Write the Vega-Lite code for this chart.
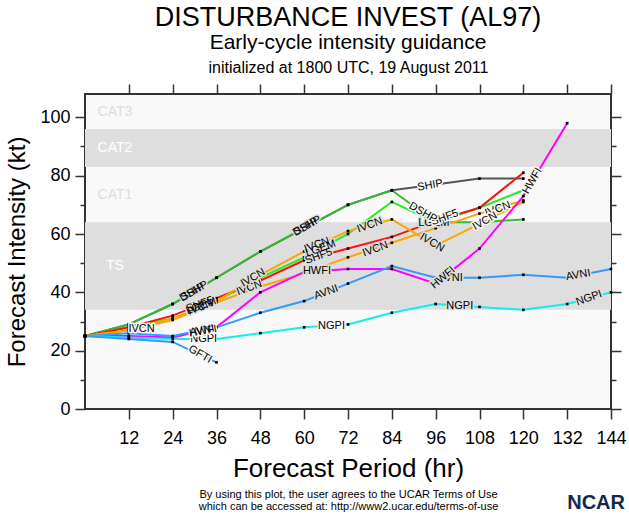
{
  "$schema": "https://vega.github.io/schema/vega-lite/v6.json",
  "background": "white",
  "padding": {"left": 4, "top": 3, "right": 5, "bottom": 2},
  "title": {
    "text": "NCAR",
    "orient": "bottom",
    "anchor": "end",
    "font": "Liberation Sans",
    "fontSize": 20,
    "fontWeight": "bold",
    "color": "#13294b",
    "offset": -19,
    "dx": -2
  },
  "datasets": {
    "series": [
      {"m": "SHIP", "t": 0, "v": 25}, {"m": "SHIP", "t": 12, "v": 29}, {"m": "SHIP", "t": 24, "v": 36}, {"m": "SHIP", "t": 36, "v": 45}, {"m": "SHIP", "t": 48, "v": 54}, {"m": "SHIP", "t": 60, "v": 62}, {"m": "SHIP", "t": 72, "v": 70}, {"m": "SHIP", "t": 84, "v": 75}, {"m": "SHIP", "t": 96, "v": 77}, {"m": "SHIP", "t": 108, "v": 79}, {"m": "SHIP", "t": 120, "v": 79},
      {"m": "DSHP", "t": 0, "v": 25}, {"m": "DSHP", "t": 12, "v": 29}, {"m": "DSHP", "t": 24, "v": 36}, {"m": "DSHP", "t": 36, "v": 45}, {"m": "DSHP", "t": 48, "v": 54}, {"m": "DSHP", "t": 60, "v": 62}, {"m": "DSHP", "t": 72, "v": 70}, {"m": "DSHP", "t": 84, "v": 75}, {"m": "DSHP", "t": 96, "v": 64}, {"m": "DSHP", "t": 108, "v": 64}, {"m": "DSHP", "t": 120, "v": 65},
      {"m": "LGEM", "t": 0, "v": 25}, {"m": "LGEM", "t": 12, "v": 28}, {"m": "LGEM", "t": 24, "v": 31}, {"m": "LGEM", "t": 36, "v": 37}, {"m": "LGEM", "t": 48, "v": 45}, {"m": "LGEM", "t": 60, "v": 52}, {"m": "LGEM", "t": 72, "v": 60}, {"m": "LGEM", "t": 84, "v": 71}, {"m": "LGEM", "t": 96, "v": 64}, {"m": "LGEM", "t": 108, "v": 69}, {"m": "LGEM", "t": 120, "v": 75},
      {"m": "SHF5", "t": 0, "v": 25}, {"m": "SHF5", "t": 12, "v": 28}, {"m": "SHF5", "t": 24, "v": 32}, {"m": "SHF5", "t": 36, "v": 38}, {"m": "SHF5", "t": 48, "v": 44}, {"m": "SHF5", "t": 60, "v": 51}, {"m": "SHF5", "t": 72, "v": 55}, {"m": "SHF5", "t": 84, "v": 59}, {"m": "SHF5", "t": 96, "v": 64.5}, {"m": "SHF5", "t": 108, "v": 69}, {"m": "SHF5", "t": 120, "v": 81},
      {"m": "IVCN", "t": 0, "v": 25}, {"m": "IVCN", "t": 12, "v": 27}, {"m": "IVCN", "t": 24, "v": 31}, {"m": "IVCN", "t": 36, "v": 37}, {"m": "IVCN", "t": 48, "v": 46}, {"m": "IVCN", "t": 60, "v": 54}, {"m": "IVCN", "t": 72, "v": 61}, {"m": "IVCN", "t": 84, "v": 65}, {"m": "IVCN", "t": 96, "v": 56}, {"m": "IVCN", "t": 108, "v": 63.5}, {"m": "IVCN", "t": 120, "v": 71},
      {"m": "ICON", "t": 0, "v": 25}, {"m": "ICON", "t": 12, "v": 27}, {"m": "ICON", "t": 24, "v": 30.5}, {"m": "ICON", "t": 36, "v": 36.5}, {"m": "ICON", "t": 48, "v": 42}, {"m": "ICON", "t": 60, "v": 46.5}, {"m": "ICON", "t": 72, "v": 52}, {"m": "ICON", "t": 84, "v": 57}, {"m": "ICON", "t": 96, "v": 62}, {"m": "ICON", "t": 108, "v": 67}, {"m": "ICON", "t": 120, "v": 71.5},
      {"m": "HWFI", "t": 0, "v": 25}, {"m": "HWFI", "t": 12, "v": 25}, {"m": "HWFI", "t": 24, "v": 24.5}, {"m": "HWFI", "t": 36, "v": 28}, {"m": "HWFI", "t": 48, "v": 40}, {"m": "HWFI", "t": 60, "v": 47}, {"m": "HWFI", "t": 72, "v": 48}, {"m": "HWFI", "t": 84, "v": 48}, {"m": "HWFI", "t": 96, "v": 43}, {"m": "HWFI", "t": 108, "v": 55}, {"m": "HWFI", "t": 120, "v": 73}, {"m": "HWFI", "t": 132, "v": 98},
      {"m": "AVNI", "t": 0, "v": 25}, {"m": "AVNI", "t": 12, "v": 26}, {"m": "AVNI", "t": 24, "v": 25}, {"m": "AVNI", "t": 36, "v": 28}, {"m": "AVNI", "t": 48, "v": 33}, {"m": "AVNI", "t": 60, "v": 37}, {"m": "AVNI", "t": 72, "v": 43}, {"m": "AVNI", "t": 84, "v": 49}, {"m": "AVNI", "t": 96, "v": 45}, {"m": "AVNI", "t": 108, "v": 45}, {"m": "AVNI", "t": 120, "v": 46}, {"m": "AVNI", "t": 132, "v": 45}, {"m": "AVNI", "t": 144, "v": 48},
      {"m": "NGPI", "t": 0, "v": 25}, {"m": "NGPI", "t": 12, "v": 24.5}, {"m": "NGPI", "t": 24, "v": 24}, {"m": "NGPI", "t": 36, "v": 24}, {"m": "NGPI", "t": 48, "v": 26}, {"m": "NGPI", "t": 60, "v": 28}, {"m": "NGPI", "t": 72, "v": 29}, {"m": "NGPI", "t": 84, "v": 33}, {"m": "NGPI", "t": 96, "v": 36}, {"m": "NGPI", "t": 108, "v": 35}, {"m": "NGPI", "t": 120, "v": 34}, {"m": "NGPI", "t": 132, "v": 36}, {"m": "NGPI", "t": 144, "v": 40},
      {"m": "GFTI", "t": 0, "v": 25}, {"m": "GFTI", "t": 12, "v": 24}, {"m": "GFTI", "t": 24, "v": 23}, {"m": "GFTI", "t": 36, "v": 16}
    ],
    "bands": [
      {"band": "TS", "lo": 34, "hi": 64},
      {"band": "CAT2", "lo": 83, "hi": 96}
    ],
    "bandLabels": [
      {"band": "CAT3", "t": 8.2, "v": 102},
      {"band": "CAT2", "t": 8.2, "v": 89.5},
      {"band": "CAT1", "t": 8.2, "v": 73.5},
      {"band": "TS", "t": 8.2, "v": 49}
    ],
    "lab0": [
      {"name": "IVCN", "t": 15.5, "v": 27.5}, {"name": "NGPI", "t": 32.5, "v": 24}, {"name": "HWFI", "t": 63.5, "v": 47.3},
      {"name": "NGPI", "t": 67.5, "v": 28.6}, {"name": "LGEM", "t": 95.5, "v": 63.8}, {"name": "AVNI", "t": 100, "v": 44.8}, {"name": "NGPI", "t": 102.6, "v": 35.3}
    ],
    "lab350": [
      {"name": "AVNI", "t": 32, "v": 26.9}, {"name": "HWFI", "t": 32.3, "v": 26.6}, {"name": "SHIP", "t": 94.5, "v": 76.6}, {"name": "AVNI", "t": 135, "v": 45.9}
    ],
    "lab340": [
      {"name": "SHF5", "t": 31.5, "v": 35.8}, {"name": "LGEM", "t": 31.8, "v": 35.3}, {"name": "IVCN", "t": 31.6, "v": 34.8}, {"name": "IVCN", "t": 45, "v": 41.5},
      {"name": "IVCN", "t": 63.5, "v": 56.2}, {"name": "LGEM", "t": 64.5, "v": 55}, {"name": "SHF5", "t": 64, "v": 52.3}, {"name": "AVNI", "t": 66, "v": 40},
      {"name": "IVCN", "t": 78, "v": 63}, {"name": "IVCN", "t": 79.5, "v": 54.8}, {"name": "SHF5", "t": 98.5, "v": 65.6}, {"name": "IVCN", "t": 113, "v": 68.5}, {"name": "NGPI", "t": 138, "v": 38}
    ],
    "lab330": [
      {"name": "SHIP", "t": 29.5, "v": 40.1}, {"name": "DSHP", "t": 29.8, "v": 40.3}, {"name": "IVCN", "t": 46, "v": 45},
      {"name": "SHIP", "t": 60.5, "v": 62.5}, {"name": "DSHP", "t": 60.8, "v": 62.7}, {"name": "IVCN", "t": 109.5, "v": 64.4}
    ],
    "lab30": [
      {"name": "GFTI", "t": 31.5, "v": 18.7}, {"name": "DSHP", "t": 92.5, "v": 67.3}, {"name": "IVCN", "t": 95, "v": 57}
    ],
    "lab320": [
      {"name": "HWFI", "t": 98, "v": 45}
    ],
    "lab300": [
      {"name": "HWFI", "t": 122.5, "v": 78.2}
    ]
  },
  "vconcat": [
    {
      "width": 526,
      "height": 315,
      "title": {
        "text": "DISTURBANCE INVEST (AL97)",
        "subtitle": "Early-cycle intensity guidance",
        "anchor": "middle",
        "frame": "group",
        "font": "Liberation Sans",
        "subtitleFont": "Liberation Sans",
        "fontSize": 27,
        "subtitleFontSize": 21,
        "fontWeight": "normal",
        "color": "black",
        "subtitleColor": "black",
        "subtitlePadding": 0,
        "offset": 5
      },
      "resolve": {"axis": {"x": "independent", "y": "independent"}},
      "layer": [
        {
          "data": {"name": "bands"},
          "mark": {"type": "rect", "color": "#dedede"},
          "encoding": {
            "x": {"datum": 0, "type": "quantitative", "scale": {"domain": [0, 144], "nice": false, "zero": false}, "axis": null},
            "x2": {"datum": 144},
            "y": {"field": "lo", "type": "quantitative", "scale": {"domain": [0, 108], "nice": false}, "axis": null},
            "y2": {"field": "hi"}
          }
        },
        {
          "data": {"name": "bandLabels"},
          "mark": {"type": "text", "font": "Liberation Sans", "fontSize": 14, "align": "center", "baseline": "middle"},
          "encoding": {
            "x": {
              "field": "t", "type": "quantitative",
              "axis": {"orient": "bottom", "ticks": false, "labels": false, "domain": false, "title": ["By using this plot, the user agrees to the UCAR Terms of Use", "which can be accessed at: http://www2.ucar.edu/terms-of-use"], "titleFontSize": 11, "titleLineHeight": 12, "titlePadding": 79}
            },
            "y": {"field": "v", "type": "quantitative", "axis": null},
            "text": {"field": "band"},
            "fill": {"field": "band", "type": "nominal", "legend": null, "scale": {"domain": ["CAT3", "CAT2", "CAT1", "TS"], "range": ["#dddddd", "#ffffff", "#dddddd", "#ffffff"]}}
          }
        },
        {
          "data": {"name": "series"},
          "mark": {"type": "line", "strokeWidth": 2},
          "encoding": {
            "x": {
              "field": "t", "type": "quantitative",
              "scale": {"domain": [0, 144], "nice": false, "zero": false},
              "axis": {"orient": "bottom", "values": [12, 24, 36, 48, 60, 72, 84, 96, 108, 120, 132, 144], "title": "Forecast Period (hr)", "titleFontSize": 26, "labelFontSize": 18, "tickSize": 10, "labelPadding": 10, "titlePadding": 8, "labelFlush": false}
            },
            "y": {
              "field": "v", "type": "quantitative",
              "scale": {"domain": [0, 108], "nice": false},
              "axis": {"orient": "left", "values": [0, 10, 20, 30, 40, 50, 60, 70, 80, 90, 100], "labelExpr": "datum.value % 20 === 0 ? datum.label : ''", "tickSize": {"condition": {"test": "datum.value % 20 === 0", "value": 10}, "value": 5}, "title": "Forecast Intensity (kt)", "titleFontSize": 24, "labelFontSize": 18, "labelPadding": 5, "titlePadding": 10, "labelFlush": false}
            },
            "stroke": {
              "field": "m", "type": "nominal", "legend": null,
              "scale": {
                "domain": ["SHIP", "DSHP", "LGEM", "SHF5", "IVCN", "ICON", "HWFI", "AVNI", "NGPI", "GFTI"],
                "range": ["#555555", "#33bb33", "#22ee22", "#ff1111", "#ffa500", "#ffa500", "#ff00ff", "#3399ff", "#11eeee", "#3399ff"]
              }
            }
          }
        },
        {
          "data": {"name": "series"},
          "mark": {"type": "point", "shape": "square", "filled": true, "size": 7, "color": "black", "opacity": 1},
          "encoding": {
            "x": {
              "field": "t", "type": "quantitative",
              "axis": {"orient": "top", "values": [12, 24, 36, 48, 60, 72, 84, 96, 108, 120, 132, 144], "labels": false, "tickSize": 10, "title": "initialized at 1800 UTC, 19 August 2011", "titleFontSize": 16, "titlePadding": 8}
            },
            "y": {
              "field": "v", "type": "quantitative",
              "axis": {"orient": "right", "values": [0, 10, 20, 30, 40, 50, 60, 70, 80, 90, 100], "labels": false, "tickSize": {"condition": {"test": "datum.value % 20 === 0", "value": 10}, "value": 5}, "title": null}
            }
          }
        },
        {
          "data": {"name": "lab0"},
          "encoding": {"x": {"field": "t", "type": "quantitative", "axis": null}, "y": {"field": "v", "type": "quantitative", "axis": null}, "text": {"field": "name"}},
          "layer": [
            {"mark": {"type": "text", "font": "Liberation Sans", "fontSize": 11, "angle": 0, "strokeWidth": 3, "strokeJoin": "round"}, "encoding": {"stroke": {"condition": {"test": "(datum.v >= 34 && datum.v <= 64) || (datum.v >= 83 && datum.v <= 96)", "value": "#dedede"}, "value": "#f9f9f9"}, "fill": {"condition": {"test": "(datum.v >= 34 && datum.v <= 64) || (datum.v >= 83 && datum.v <= 96)", "value": "#dedede"}, "value": "#f9f9f9"}}},
            {"mark": {"type": "text", "font": "Liberation Sans", "fontSize": 11, "color": "black", "angle": 0}}
          ]
        },
        {
          "data": {"name": "lab350"},
          "encoding": {"x": {"field": "t", "type": "quantitative", "axis": null}, "y": {"field": "v", "type": "quantitative", "axis": null}, "text": {"field": "name"}},
          "layer": [
            {"mark": {"type": "text", "font": "Liberation Sans", "fontSize": 11, "angle": 350, "strokeWidth": 3, "strokeJoin": "round"}, "encoding": {"stroke": {"condition": {"test": "(datum.v >= 34 && datum.v <= 64) || (datum.v >= 83 && datum.v <= 96)", "value": "#dedede"}, "value": "#f9f9f9"}, "fill": {"condition": {"test": "(datum.v >= 34 && datum.v <= 64) || (datum.v >= 83 && datum.v <= 96)", "value": "#dedede"}, "value": "#f9f9f9"}}},
            {"mark": {"type": "text", "font": "Liberation Sans", "fontSize": 11, "color": "black", "angle": 350}}
          ]
        },
        {
          "data": {"name": "lab340"},
          "encoding": {"x": {"field": "t", "type": "quantitative", "axis": null}, "y": {"field": "v", "type": "quantitative", "axis": null}, "text": {"field": "name"}},
          "layer": [
            {"mark": {"type": "text", "font": "Liberation Sans", "fontSize": 11, "angle": 340, "strokeWidth": 3, "strokeJoin": "round"}, "encoding": {"stroke": {"condition": {"test": "(datum.v >= 34 && datum.v <= 64) || (datum.v >= 83 && datum.v <= 96)", "value": "#dedede"}, "value": "#f9f9f9"}, "fill": {"condition": {"test": "(datum.v >= 34 && datum.v <= 64) || (datum.v >= 83 && datum.v <= 96)", "value": "#dedede"}, "value": "#f9f9f9"}}},
            {"mark": {"type": "text", "font": "Liberation Sans", "fontSize": 11, "color": "black", "angle": 340}}
          ]
        },
        {
          "data": {"name": "lab330"},
          "encoding": {"x": {"field": "t", "type": "quantitative", "axis": null}, "y": {"field": "v", "type": "quantitative", "axis": null}, "text": {"field": "name"}},
          "layer": [
            {"mark": {"type": "text", "font": "Liberation Sans", "fontSize": 11, "angle": 330, "strokeWidth": 3, "strokeJoin": "round"}, "encoding": {"stroke": {"condition": {"test": "(datum.v >= 34 && datum.v <= 64) || (datum.v >= 83 && datum.v <= 96)", "value": "#dedede"}, "value": "#f9f9f9"}, "fill": {"condition": {"test": "(datum.v >= 34 && datum.v <= 64) || (datum.v >= 83 && datum.v <= 96)", "value": "#dedede"}, "value": "#f9f9f9"}}},
            {"mark": {"type": "text", "font": "Liberation Sans", "fontSize": 11, "color": "black", "angle": 330}}
          ]
        },
        {
          "data": {"name": "lab30"},
          "encoding": {"x": {"field": "t", "type": "quantitative", "axis": null}, "y": {"field": "v", "type": "quantitative", "axis": null}, "text": {"field": "name"}},
          "layer": [
            {"mark": {"type": "text", "font": "Liberation Sans", "fontSize": 11, "angle": 30, "strokeWidth": 3, "strokeJoin": "round"}, "encoding": {"stroke": {"condition": {"test": "(datum.v >= 34 && datum.v <= 64) || (datum.v >= 83 && datum.v <= 96)", "value": "#dedede"}, "value": "#f9f9f9"}, "fill": {"condition": {"test": "(datum.v >= 34 && datum.v <= 64) || (datum.v >= 83 && datum.v <= 96)", "value": "#dedede"}, "value": "#f9f9f9"}}},
            {"mark": {"type": "text", "font": "Liberation Sans", "fontSize": 11, "color": "black", "angle": 30}}
          ]
        },
        {
          "data": {"name": "lab320"},
          "encoding": {"x": {"field": "t", "type": "quantitative", "axis": null}, "y": {"field": "v", "type": "quantitative", "axis": null}, "text": {"field": "name"}},
          "layer": [
            {"mark": {"type": "text", "font": "Liberation Sans", "fontSize": 11, "angle": 320, "strokeWidth": 3, "strokeJoin": "round"}, "encoding": {"stroke": {"condition": {"test": "(datum.v >= 34 && datum.v <= 64) || (datum.v >= 83 && datum.v <= 96)", "value": "#dedede"}, "value": "#f9f9f9"}, "fill": {"condition": {"test": "(datum.v >= 34 && datum.v <= 64) || (datum.v >= 83 && datum.v <= 96)", "value": "#dedede"}, "value": "#f9f9f9"}}},
            {"mark": {"type": "text", "font": "Liberation Sans", "fontSize": 11, "color": "black", "angle": 320}}
          ]
        },
        {
          "data": {"name": "lab300"},
          "encoding": {"x": {"field": "t", "type": "quantitative", "axis": null}, "y": {"field": "v", "type": "quantitative", "axis": null}, "text": {"field": "name"}},
          "layer": [
            {"mark": {"type": "text", "font": "Liberation Sans", "fontSize": 11, "angle": 300, "strokeWidth": 3, "strokeJoin": "round"}, "encoding": {"stroke": {"condition": {"test": "(datum.v >= 34 && datum.v <= 64) || (datum.v >= 83 && datum.v <= 96)", "value": "#dedede"}, "value": "#f9f9f9"}, "fill": {"condition": {"test": "(datum.v >= 34 && datum.v <= 64) || (datum.v >= 83 && datum.v <= 96)", "value": "#dedede"}, "value": "#f9f9f9"}}},
            {"mark": {"type": "text", "font": "Liberation Sans", "fontSize": 11, "color": "black", "angle": 300}}
          ]
        }
      ]
    }
  ],
  "config": {
    "font": "Liberation Sans",
    "view": {"fill": "#f9f9f9", "stroke": "#333333", "strokeWidth": 2},
    "axis": {
      "labelFont": "Liberation Sans",
      "titleFont": "Liberation Sans",
      "labelColor": "black",
      "titleColor": "black",
      "titleFontWeight": "normal",
      "tickColor": "#333333",
      "tickWidth": 1.5,
      "domain": false,
      "grid": false
    }
  }
}
